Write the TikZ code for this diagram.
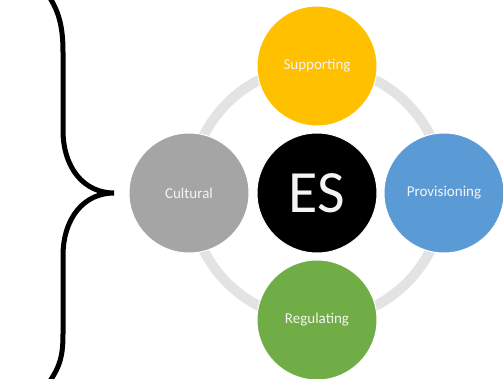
\documentclass[tikz,border=0pt]{standalone}
\usepackage{fontspec}
\setmainfont{Carlito}
\definecolor{supp}{HTML}{FFC000}
\definecolor{prov}{HTML}{5B9BD5}
\definecolor{regu}{HTML}{70AD47}
\definecolor{cult}{HTML}{A5A5A5}
\definecolor{ringc}{HTML}{E3E3E3}
\definecolor{txt}{HTML}{F4F4F4}
\tikzset{
  es/.style={circle, draw=white, line width=1pt, minimum size=120pt, inner sep=0pt, text=txt, font=\fontsize{15}{17}\selectfont},
}
\begin{document}
\begin{tikzpicture}[x=1pt,y=-1pt]
\useasboundingbox (0,0) rectangle (503,379);
\fill[white] (0,0) rectangle (503,379);
\coordinate (c) at (317,193);
\draw[ringc, line width=10pt] (c) circle[radius=127];
\node[es, fill=black, font=\fontsize{60}{62}\selectfont] (core) at (c) {ES};
\node[es, fill=supp] (supporting) at (317,66) {Supporting};
\node[es, fill=prov] (provisioning) at (444,193) {Provisioning};
\node[es, fill=regu] (regulating) at (317,320) {Regulating};
\node[es, fill=cult] (cultural) at (189,193) {Cultural};
\draw[black, line width=5pt]
  (50,-2) .. controls (60,14) and (63,30) .. (63,52) -- (63,130)
  .. controls (63,168) and (84,193) .. (114,193)
  .. controls (84,193) and (63,218) .. (63,256) -- (63,334)
  .. controls (63,356) and (60,366) .. (50,381);
\end{tikzpicture}
\end{document}
